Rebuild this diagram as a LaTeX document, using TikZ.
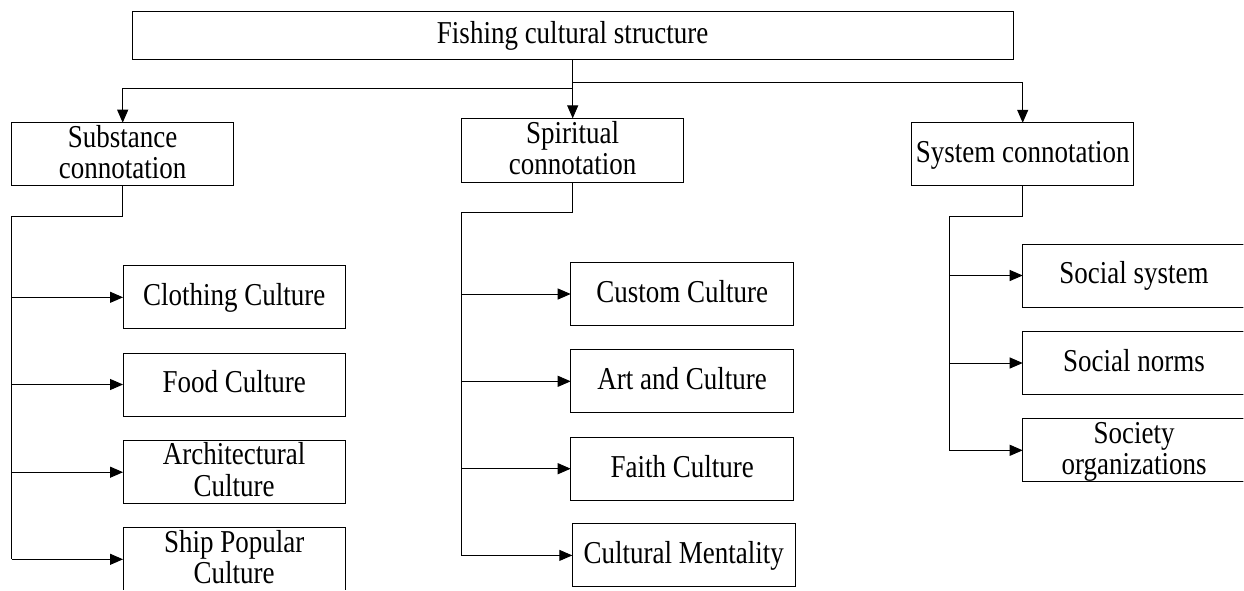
\documentclass[tikz,border=0pt]{standalone}
\usepackage{fontspec}
\usepackage{graphicx}
\setmainfont{Liberation Serif}
\usetikzlibrary{arrows.meta}
\newcommand{\tl}[1]{\scalebox{1}[1.18]{\raisebox{-1.8pt}[\height][\depth]{\begin{tabular}{@{}c@{}}#1\end{tabular}}}}
\tikzset{
  box/.style={draw=black, line width=1pt, rectangle, inner sep=0pt, outer sep=0pt,
    align=center, font=\fontsize{27pt}{26.5pt}\selectfont, minimum height=63pt},
  arr/.style={line width=1pt, -{Triangle[length=13pt,width=11pt]}},
  ln/.style={line width=1pt}
}
\begin{document}
\begin{tikzpicture}[x=1pt,y=-1pt]
\useasboundingbox (0,0) rectangle (1244,590);
\clip (0,0) rectangle (1243.3,589);
% top
\node[box, minimum width=881pt, minimum height=47.6pt] (top) at (572.7,35.5) {\tl{Fishing cultural structure}};
% level 1
\node[box, minimum width=222pt] (sub) at (122.7,154.2) {\tl{Substance\\connotation}};
\node[box, minimum width=222pt, minimum height=63.7pt] (spi) at (572.7,150.2) {\tl{Spiritual\\connotation}};
\node[box, minimum width=222.5pt] (sys) at (1022.7,154.3) {\tl{System connotation}};
% left column
\node[box, minimum width=222.3pt] (clo) at (234.2,297.3) {\tl{Clothing Culture}};
\node[box, minimum width=222.3pt] (food) at (234.2,384.5) {\tl{Food Culture}};
\node[box, minimum width=222.3pt] (arch) at (234.2,472.2) {\tl{Architectural\\Culture}};
\node[box, minimum width=222.3pt] (ship) at (234.2,559.3) {\tl{Ship Popular\\Culture}};
% middle column
\node[box, minimum width=223pt] (cus) at (682.2,294) {\tl{Custom Culture}};
\node[box, minimum width=223pt] (art) at (682.2,381.3) {\tl{Art and Culture}};
\node[box, minimum width=223pt] (fai) at (682.2,468.7) {\tl{Faith Culture}};
\node[box, minimum width=223pt] (men) at (683.8,555.4) {\tl{Cultural Mentality}};
% right column
\node[box, minimum width=222.6pt] (ssy) at (1134,275.5) {\tl{Social system}};
\node[box, minimum width=222.6pt] (sno) at (1134,363) {\tl{Social norms}};
\node[box, minimum width=222.6pt] (sor) at (1134,450.3) {\tl{Society\\organizations}};
% top connectors
\coordinate (jL) at (572.7,88.3);
\coordinate (jR) at (572.7,82.3);
\draw[arr] (top.south) -- (spi.north);
\draw[ln] (top.south) -- (jL);
\draw[arr] (jL) -| (sub.north);
\draw[arr] (jR) -| (sys.north);
% left column connectors
\coordinate (sL) at (11.7,216);
\draw[ln] (sub.south) |- (sL) -- (sL |- ship.west);
\foreach \b in {clo,food,arch,ship} \draw[arr] (sL |- \b.west) -- (\b.west);
% middle column connectors
\coordinate (sM) at (461.3,212.3);
\draw[ln] (spi.south) |- (sM) -- (sM |- men.west);
\foreach \b in {cus,art,fai,men} \draw[arr] (sM |- \b.west) -- (\b.west);
% right column connectors
\coordinate (sR) at (949.3,216);
\draw[ln] (sys.south) |- (sR) -- (sR |- sor.west);
\foreach \b in {ssy,sno,sor} \draw[arr] (sR |- \b.west) -- (\b.west);
\end{tikzpicture}
\end{document}
